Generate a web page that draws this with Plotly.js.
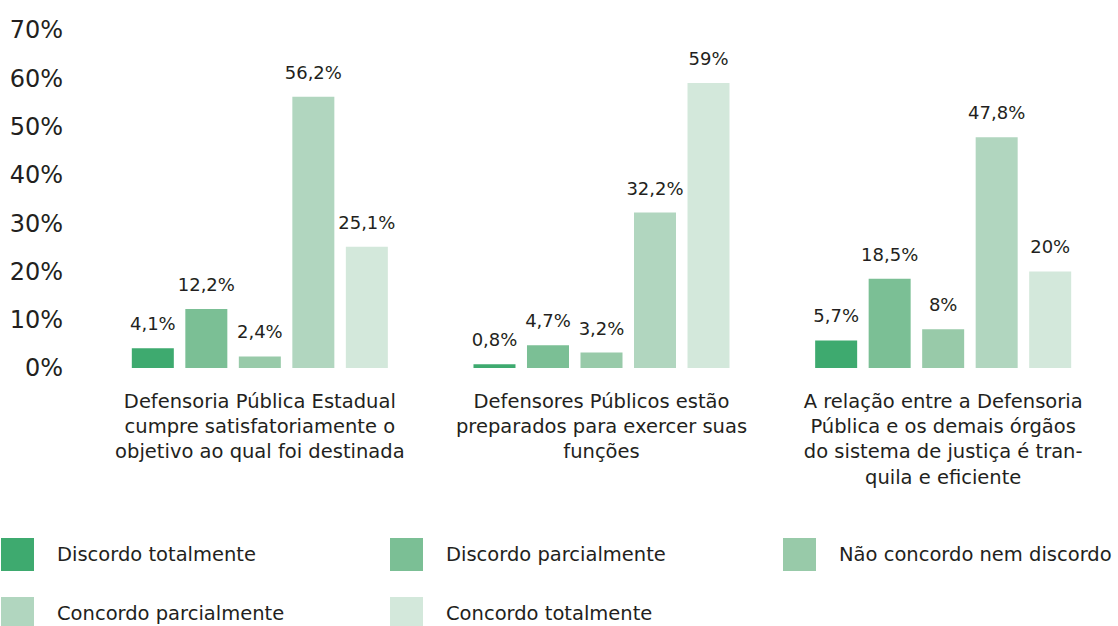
<!DOCTYPE html>
<html>
<head>
<meta charset="utf-8">
<script src="https://cdn.plot.ly/plotly-3.0.1.min.js"></script>
<style>html,body{margin:0;padding:0;background:#fff;}#chart{width:1118px;height:626px;}</style>
</head>
<body>
<div id="chart"></div>
<script>
const categories = [
  "Defensoria Pública Estadual<br>cumpre satisfatoriamente o<br>objetivo ao qual foi destinada",
  "Defensores Públicos estão<br>preparados para exercer suas<br>funções",
  "A relação entre a Defensoria<br>Pública e os demais órgãos<br>do sistema de justiça é tran-<br>quila e eficiente"
];
const seriesNames = ["Discordo totalmente", "Discordo parcialmente", "Não concordo nem discordo", "Concordo parcialmente", "Concordo totalmente"];
const discordoTotalmente = [4.1, 0.8, 5.7];
const discordoParcialmente = [12.2, 4.7, 18.5];
const naoConcordoNemDiscordo = [2.4, 3.2, 8];
const concordoParcialmente = [56.2, 32.2, 47.8];
const concordoTotalmente = [25.1, 59, 20];
const seriesValues = [discordoTotalmente, discordoParcialmente, naoConcordoNemDiscordo, concordoParcialmente, concordoTotalmente];
const colors = ["#3eaa6f", "#7bbf95", "#98caa9", "#b1d6bf", "#d3e8db"];

const FONT = "DejaVu Sans, sans-serif";
const TXT = "#231f20";

const traces = seriesNames.map((name, i) => ({
  type: "bar",
  name: name,
  x: categories,
  y: seriesValues[i],
  marker: {color: colors[i]},
  text: seriesValues[i].map(v => '<span style="font-size:18px">' + String(v).replace(".", ",") + "%</span><br> "),
  textposition: "outside",
  constraintext: "none",
  cliponaxis: false,
  textfont: {family: FONT, size: 10, color: TXT},
  hoverinfo: "skip"
}));

const W = 1118, H = 626, L = 89, R = 4, T = 30, B = 258;
const pw = W - L - R, ph = H - T - B;
const px = x => (x - L) / pw;
const py = y => (H - B - y) / ph;

const legendCols = [1, 390, 783];
const legendRows = [554, 613];
const shapes = [], annotations = [];
seriesNames.forEach((name, i) => {
  const col = i % 3, row = Math.floor(i / 3);
  const x0 = legendCols[col], yc = legendRows[row];
  shapes.push({type: "rect", xref: "paper", yref: "paper",
    x0: px(x0), x1: px(x0 + 33), y0: py(yc + 17), y1: py(yc - 16),
    fillcolor: colors[i], line: {width: 0}});
  annotations.push({xref: "paper", yref: "paper", x: px(x0 + 54), y: py(yc),
    xanchor: "left", yanchor: "middle", showarrow: false, text: name,
    font: {family: FONT, size: 19.5, color: TXT}});
});

const layout = {
  width: W, height: H,
  margin: {l: L, r: R, t: T, b: B, pad: 0},
  paper_bgcolor: "#fff", plot_bgcolor: "#fff",
  barmode: "group", bargap: 0.217, bargroupgap: 0.215,
  showlegend: false,
  font: {family: FONT, color: TXT},
  xaxis: {type: "category", showgrid: false, zeroline: false, showline: false, ticks: "",
    tickfont: {family: FONT, size: 19.5, color: TXT}, ticklabelstandoff: 19, automargin: false},
  yaxis: {range: [0, 70], dtick: 10, ticksuffix: "%", showgrid: false, zeroline: false, showline: false,
    ticks: "", tickfont: {family: FONT, size: 24, color: TXT}, ticklabelstandoff: 25, automargin: false},
  shapes: shapes,
  annotations: annotations
};

Plotly.newPlot("chart", traces, layout, {displayModeBar: false, staticPlot: true});
</script>
</body>
</html>
